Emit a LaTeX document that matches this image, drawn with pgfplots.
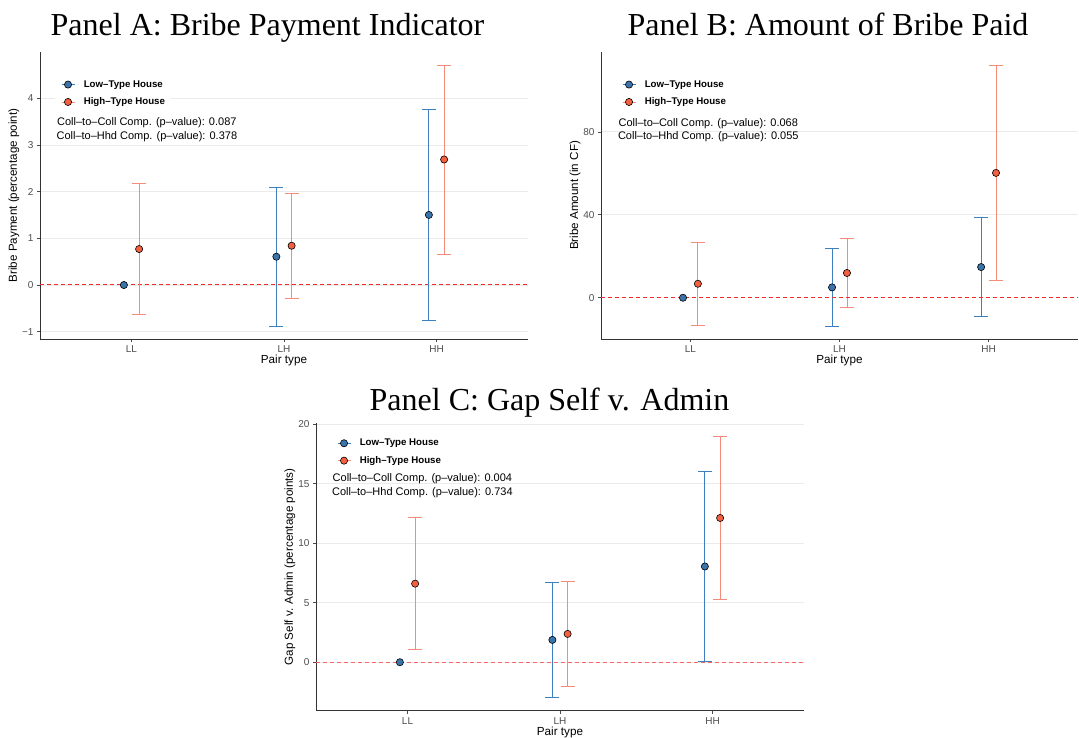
\documentclass[border=0pt]{standalone}
\usepackage{pgfplots}
\pgfplotsset{compat=1.18}
\usepackage{fontspec}
\setmainfont{Liberation Sans}
\newfontfamily\titlefont{Liberation Serif}
\definecolor{lowline}{HTML}{3D7FBF}
\definecolor{lowfill}{HTML}{3A74AA}
\definecolor{highline}{HTML}{F58C7A}
\definecolor{highfill}{HTML}{F2603F}
\definecolor{gridc}{HTML}{EBEBEB}
\definecolor{tickc}{HTML}{4D4D4D}
\definecolor{zeroline}{HTML}{F52A2A}
\definecolor{zerolineC}{HTML}{F26B6B}

\pgfplotsset{
  myaxis/.style={
    scale only axis,
    /pgf/number format/assume math mode=true,
    xmin=0.4, xmax=3.6, xtick={1,2,3}, xticklabels={LL,LH,HH},
    axis x line*=bottom, axis y line*=left,
    axis line style={black!80, line width=0.9pt},
    tick align=outside, major tick length=3pt,
    tick style={black!70, line width=0.6pt},
    ymajorgrids, grid style={gridc, line width=0.7pt},
    ticklabel style={font=\fontsize{10}{12}\selectfont, text=tickc},
    xlabel={Pair type},
    every axis x label/.style={at={(axis description cs:0.5,-0.0756)}, anchor=center,
      font=\fontsize{11.7}{13}\selectfont},
    legend cell align=left,
    legend style={draw=none, fill=white, inner xsep=6pt, inner ysep=5pt,
      font=\fontsize{9.7}{11}\selectfont\bfseries,
      nodes={inner sep=0pt, text height=7.2pt, text depth=2.2pt},
      row sep=8pt,
      /tikz/every odd column/.append style={column sep=8.9pt}},
  },
  lowerr/.style={forget plot, draw=lowline, only marks, mark=none,
    error bars/.cd, y dir=both, y explicit,
    error bar style={draw=lowline, line width=0.8pt, solid},
    error mark options={draw=lowline, line width=0.8pt, mark size=7pt, rotate=90}},
  higherr/.style={forget plot, draw=highline, only marks, mark=none,
    error bars/.cd, y dir=both, y explicit,
    error bar style={draw=highline, line width=0.8pt, solid},
    error mark options={draw=highline, line width=0.8pt, mark size=7pt, rotate=90}},
  lowpt/.style={only marks, mark=*, mark size=3.6pt,
    mark options={fill=lowfill, draw=black, line width=0.6pt},
    legend image code/.code={\draw[lowline, line width=0.7pt] (0pt,0pt) -- (13pt,0pt);
      \draw[##1] plot coordinates {(6.5pt,0pt)};}},
  highpt/.style={only marks, mark=*, mark size=3.6pt,
    mark options={fill=highfill, draw=black, line width=0.6pt},
    legend image code/.code={\draw[highline, line width=0.7pt] (0pt,0pt) -- (13pt,0pt);
      \draw[##1] plot coordinates {(6.5pt,0pt)};}},
  ylab/.style={every axis y label/.style={at={(axis description cs:#1,0.5)}, rotate=90, anchor=center,
      font=\fontsize{11.6}{13}\selectfont}},
  zero/.style={forget plot, draw=#1, line width=1.2pt, dash pattern=on 4pt off 3pt},
}

\begin{document}
\begin{tikzpicture}
\path[use as bounding box] (0pt,0pt) rectangle (1079pt,-738pt);

% ---------------- Panel A
\node[font=\titlefont\fontsize{32}{36}\selectfont, anchor=base] at (267.5pt,-36pt) {Panel A: Bribe Payment Indicator};
\begin{axis}[myaxis, at={(40pt,-339pt)}, anchor=south west,
  width=488pt, height=287pt,
  ymin=-1.156, ymax=4.989,
  ytick={-1,0,1,2,3,4}, yticklabels={−1,0,1,2,3,4},
  ylabel={Bribe Payment (percentage point)}, ylab=-0.0533,
  legend style={at={(axis description cs:0.0307,0.921)}, anchor=north west}]
\addplot[zero=zeroline] table[x=x, y=y] {
x y
0.4 0.004
3.6 0.004
};
\addplot[lowerr] table[x=x, y=y, y error=e] {
x y e
1.95 0.606 1.487
2.95 1.501 2.264
};
\addplot[higherr] table[x=x, y=y, y error=e] {
x y e
1.05 0.770 1.405
2.05 0.841 1.119
3.05 2.687 2.023
};
\addplot[lowpt] table[x=x, y=y] {
x y
0.95 0
1.95 0.606
2.95 1.501
};
\addplot[highpt] table[x=x, y=y] {
x y
1.05 0.770
2.05 0.841
3.05 2.687
};
\legend{Low–Type House, High–Type House}
\node[align=center, font=\fontsize{11}{13.6}\selectfont] at (rel axis cs:0.219,0.729)
  {Coll–to–Coll Comp. (p–value): 0.087\\Coll–to–Hhd Comp. (p–value): 0.378};
\end{axis}

% ---------------- Panel B
\node[font=\titlefont\fontsize{32}{36}\selectfont, anchor=base] at (828pt,-36pt) {Panel B: Amount of Bribe Paid};
\begin{axis}[myaxis, at={(601pt,-339pt)}, anchor=south west,
  width=477pt, height=287pt,
  ymin=-19.89, ymax=118.5,
  ytick={40,80}, extra y ticks={0}, extra y tick style={grid=none},
  ylabel={Bribe Amount (in CF)}, ylab=-0.0545,
  legend style={at={(axis description cs:0.0314,0.921)}, anchor=north west}]
\addplot[lowerr] table[x=x, y=y, y error=e] {
x y e
1.95 5.0 18.6
2.95 14.8 23.8
};
\addplot[higherr] table[x=x, y=y, y error=e] {
x y e
1.05 6.75 19.85
2.05 11.95 16.75
3.05 60.2 52.0
};
\addplot[forget plot, draw=zeroline, line width=1.3pt, dash pattern=on 4pt off 3pt] table[x=x, y=y] {
x y
0.4 0
3.6 0
};
\addplot[lowpt] table[x=x, y=y] {
x y
0.95 0
1.95 5.0
2.95 14.8
};
\addplot[highpt] table[x=x, y=y] {
x y
1.05 6.75
2.05 11.95
3.05 60.2
};
\legend{Low–Type House, High–Type House}
\node[align=center, font=\fontsize{11}{13.6}\selectfont] at (rel axis cs:0.225,0.728)
  {Coll–to–Coll Comp. (p–value): 0.068\\Coll–to–Hhd Comp. (p–value): 0.055};
\end{axis}

% ---------------- Panel C
\node[font=\titlefont\fontsize{32}{36}\selectfont, anchor=base] at (549.5pt,-410pt) {Panel C: Gap Self v. Admin};
\begin{axis}[myaxis, at={(316pt,-710.7pt)}, anchor=south west,
  width=488pt, height=287.7pt,
  ymin=-4.07, ymax=20.09,
  ytick={0,5,10,15,20},
  ylabel={Gap Self v. Admin (percentage points)}, ylab=-0.0533,
  legend style={at={(axis description cs:0.0307,0.964)}, anchor=north west}]
\addplot[zero=zerolineC] table[x=x, y=y] {
x y
0.4 0
3.6 0
};
\addplot[lowerr] table[x=x, y=y, y error=e] {
x y e
1.95 1.875 4.845
2.95 8.04 8.01
};
\addplot[higherr] table[x=x, y=y, y error=e] {
x y e
1.05 6.60 5.535
2.05 2.38 4.40
3.05 12.115 6.875
};
\addplot[lowpt] table[x=x, y=y] {
x y
0.95 0
1.95 1.875
2.95 8.04
};
\addplot[highpt] table[x=x, y=y] {
x y
1.05 6.60
2.05 2.38
3.05 12.115
};
\legend{Low–Type House, High–Type House}
\node[align=center, font=\fontsize{11}{13.6}\selectfont] at (rel axis cs:0.218,0.782)
  {Coll–to–Coll Comp. (p–value): 0.004\\Coll–to–Hhd Comp. (p–value): 0.734};
\end{axis}
\end{tikzpicture}
\end{document}
